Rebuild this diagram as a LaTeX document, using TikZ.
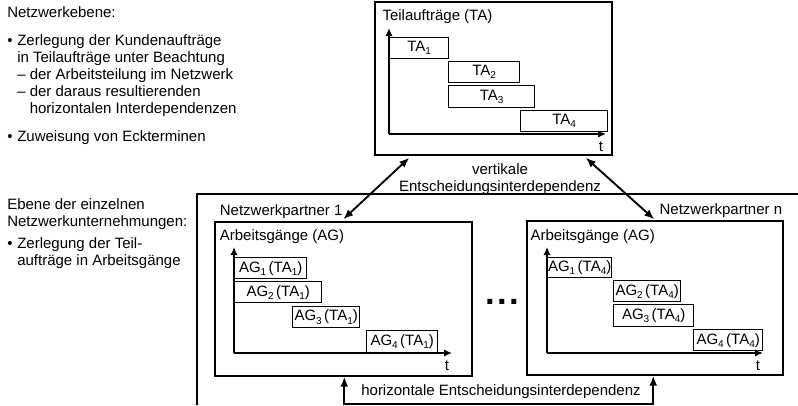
\documentclass[tikz,border=0pt]{standalone}
\usepackage{fontspec}
\setmainfont{Liberation Sans}
\usetikzlibrary{positioning,fit,calc,arrows.meta}
\newcommand*{\tsub}[1]{\raisebox{-0.4ex}{\fontsize{7.5}{7.5}\selectfont#1}}
\newcommand*{\bl}{\makebox[7.5pt][l]{•}}
\newcommand*{\ind}{\hspace*{7.5pt}}

\begin{document}
\begin{tikzpicture}[x=0.75pt, y=-0.75pt, font=\fontsize{11.25}{12.75}\selectfont]
        \tikzset{box/.style={draw, line width=1.1pt, inner sep=0pt},
                 bar/.style 2 args={draw, line width=1pt, inner sep=0pt, anchor=north west,
                   minimum width=#1*0.75pt, minimum height=#2*0.75pt},
                 lbl/.style={inner sep=0pt},
                 axis/.style={line width=1.4pt, -{Latex[length=6pt, width=5.5pt]}},
                 dep/.style={line width=1.4pt, {Latex[length=7.5pt, width=6pt]}-{Latex[length=7.5pt, width=6pt]}}}
        \useasboundingbox (0,0) rectangle (798,405);
        % left texts
        \node[lbl, anchor=north west] (netz) at (7,6) {Netzwerkebene:};
        \node[lbl, anchor=north west, align=left] (netztxt) at (7,34)
            {\bl Zerlegung der Kundenaufträge\\
             \ind in Teilaufträge unter Beachtung\\
             \ind – der Arbeitsteilung im Netzwerk\\
             \ind – der daraus resultierenden\\
             \ind\phantom{– }horizontalen Interdependenzen};
        \node[lbl, anchor=north west] (zuw) at (7,130) {\bl Zuweisung von Eckterminen};
        \node[lbl, anchor=north west, align=left] (ebene) at (7,198)
            {Ebene der einzelnen\\Netzwerkunternehmungen:};
        \node[lbl, anchor=north west, align=left] (ebenetxt) at (7,237)
            {\bl Zerlegung der Teil-\\\ind aufträge in Arbeitsgänge};
        \draw[line width=0.8pt] (197,405) |- (798,194);
        % network level
        \node[box, fit={(375,2)(612,155)}] (tabox) {};
        \node[lbl, below right=6pt and 6pt of tabox.north west] (tatitle) {Teilaufträge (TA)};
        \coordinate (o0) at (389,134);
        \draw[axis] (o0) -- (389,28);
        \draw[axis] (o0) -- (606,134);
        \node[lbl] (t0) at (601,147) {t};
        \node[bar={59}{21}] (ta1) at (389,37) {TA\tsub1};
        \node[bar={71}{21}] (ta2) at (448,61) {TA\tsub2};
        \node[bar={86}{22}] (ta3) at (448,85) {TA\tsub3};
        \node[bar={87}{21}] (ta4) at (520,110) {TA\tsub4};
        \node[lbl, align=center] (vert) at (500,179) {vertikale\\Entscheidungsinterdependenz};
        % partner 1
        \node[box, fit={(215,222)(472,376)}] (p1box) {};
        \node[lbl, above right=1.5pt and 4pt of p1box.north west] (p1name) {Netzwerkpartner 1};
        \node[lbl, below right=6pt and 4pt of p1box.north west] (p1title) {Arbeitsgänge (AG)};
        \coordinate (o1) at (234,353);
        \draw[axis] (o1) -- (234,247);
        \draw[axis] (o1) -- (452,353);
        \node[lbl] (t1) at (447,366) {t};
        \node[bar={72}{21}] (p1ag1) at (234,257) {AG\tsub1\,(TA\tsub1)};
        \node[bar={87}{21}] (p1ag2) at (234,281) {AG\tsub2\,(TA\tsub1)};
        \node[bar={67}{21}] (p1ag3) at (292,306) {AG\tsub3\,(TA\tsub1)};
        \node[bar={71}{22}] (p1ag4) at (366,330) {AG\tsub4\,(TA\tsub1)};
        % partner n
        \node[box, fit={(527,221)(783,375)}] (pnbox) {};
        \node[lbl, above left=1.5pt and 1pt of pnbox.north east] (pnname) {Netzwerkpartner n};
        \node[lbl, below right=6.5pt and 3pt of pnbox.north west] (pntitle) {Arbeitsgänge (AG)};
        \coordinate (o2) at (547,353);
        \draw[axis] (o2) -- (547,247);
        \draw[axis] (o2) -- (763,353);
        \node[lbl] (t2) at (758,366) {t};
        \node[bar={64}{20}] (pnag1) at (547,257) {AG\tsub1\,(TA\tsub4)};
        \node[bar={67}{21}] (pnag2) at (613,280) {AG\tsub2\,(TA\tsub4)};
        \node[bar={80}{22}] (pnag3) at (613,304) {AG\tsub3\,(TA\tsub4)};
        \node[bar={69}{21}] (pnag4) at (693,329) {AG\tsub4\,(TA\tsub4)};
        \node[lbl] (dots) at (502,302) {\fontsize{26}{26}\selectfont\bfseries.\kern1.8pt.\kern1.8pt.};
        % dependencies
        \draw[dep] ($(tabox.south west)+(35,2)$) -- ($(p1box.north west)+(129,-2)$);
        \draw[dep] ($(tabox.south east)+(-27,2)$) -- ($(pnbox.north west)+(128,-1)$);
        \draw[dep] ($(p1box.south west)+(130,0)$) -- ++(0,27) -| ($(pnbox.south west)+(127,0)$);
        \node[lbl] (hlabel) at (501,392) {horizontale Entscheidungsinterdependenz};
\end{tikzpicture}
\end{document}
